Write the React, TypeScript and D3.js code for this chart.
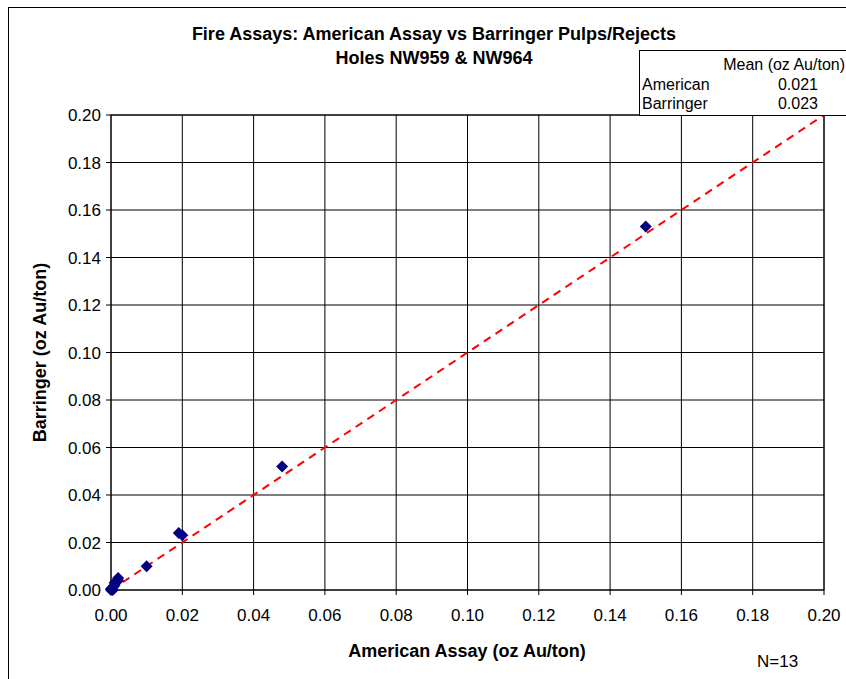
import React from 'react';
import * as d3 from 'd3';

const american = [0.150, 0.048, 0.019, 0.020, 0.010, 0.002, 0.002, 0.001, 0.001, 0.0005, 0.0, 0.0, 0.0005];
const barringer = [0.153, 0.052, 0.024, 0.023, 0.010, 0.005, 0.004, 0.003, 0.002, 0.001, 0.0, 0.0005, 0.0];
const ticks = [0, 0.02, 0.04, 0.06, 0.08, 0.1, 0.12, 0.14, 0.16, 0.18, 0.2];
const meanRows = [
  { name: 'American', value: '0.021' },
  { name: 'Barringer', value: '0.023' },
];

const font = 'Arial, "Liberation Sans", sans-serif';

export default function App() {
  const W = 846;
  const H = 679;
  const margin = { left: 111, right: 22, top: 115, bottom: 89 };
  const x = d3.scaleLinear().domain([0, 0.2]).range([margin.left, W - margin.right]);
  const y = d3.scaleLinear().domain([0, 0.2]).range([H - margin.bottom, margin.top]);
  const marker = d3.symbol().type(d3.symbolSquare).size(72)();

  return (
    <svg width={W} height={H} style={{ position: 'absolute', left: 0, top: 0, background: '#fff' }}>
      <rect x={8.5} y={7.5} width={W + 10} height={H + 10} fill="#fff" stroke="#000" />
      <text x={434} y={40} textAnchor="middle" fontFamily={font} fontWeight="bold" fontSize={18}>
        Fire Assays: American Assay vs Barringer Pulps/Rejects
      </text>
      <text x={434} y={64} textAnchor="middle" fontFamily={font} fontWeight="bold" fontSize={18}>
        Holes NW959 &amp; NW964
      </text>

      {/* grid */}
      {ticks.map(t => (
        <g key={'g' + t}>
          <line x1={x(t)} x2={x(t)} y1={y(0.2)} y2={y(0) + 5} stroke="#000" strokeWidth={1} />
          <line x1={x(0) - 5} x2={x(0.2)} y1={y(t)} y2={y(t)} stroke="#000" strokeWidth={1} />
          <text x={x(0) - 10} y={y(t) + 6} textAnchor="end" fontFamily={font} fontSize={17}>
            {t.toFixed(2)}
          </text>
          <text x={x(t)} y={y(0) + 31} textAnchor="middle" fontFamily={font} fontSize={17}>
            {t.toFixed(2)}
          </text>
        </g>
      ))}
      <rect x={x(0)} y={y(0.2)} width={x(0.2) - x(0)} height={y(0) - y(0.2)} fill="none" stroke="#000" />

      {/* 1:1 line */}
      <line x1={x(0)} y1={y(0)} x2={x(0.2)} y2={y(0.2)} stroke="#ff0000" strokeWidth={2} strokeDasharray="8,6" />

      {american.map((a, i) => (
        <path key={i} d={marker!} transform={`translate(${x(a)},${y(barringer[i])}) rotate(45)`} fill="#000080" />
      ))}

      {/* mean table */}
      <rect x={639.5} y={50.5} width={220} height={65} fill="#fff" stroke="#000" />
      <text x={845} y={70} textAnchor="end" fontFamily={font} fontSize={16}>Mean (oz Au/ton)</text>
      {meanRows.map((r, i) => (
        <g key={r.name}>
          <text x={642} y={90 + i * 19} fontFamily={font} fontSize={16}>{r.name}</text>
          <text x={798} y={90 + i * 19} textAnchor="middle" fontFamily={font} fontSize={16}>{r.value}</text>
        </g>
      ))}

      <text x={467} y={657} textAnchor="middle" fontFamily={font} fontWeight="bold" fontSize={18}>
        American Assay (oz Au/ton)
      </text>
      <text transform={`translate(46,${(y(0) + y(0.2)) / 2}) rotate(-90)`} textAnchor="middle" fontFamily={font} fontWeight="bold" fontSize={18}>
        Barringer (oz Au/ton)
      </text>
      <text x={757} y={667} fontFamily={font} fontSize={17}>N=13</text>
    </svg>
  );
}
